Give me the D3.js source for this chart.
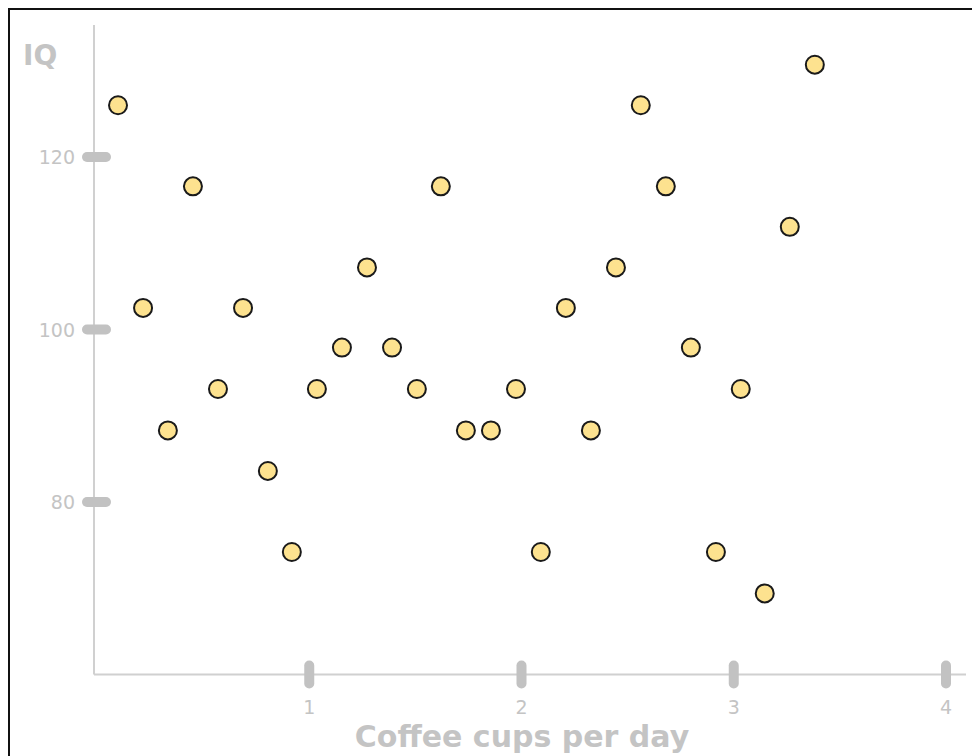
<!DOCTYPE html>
<html>
<head>
<meta charset="utf-8">
<script src="https://cdn.jsdelivr.net/npm/d3@7"></script>
<style>
  body { margin: 0; background: #fff; }
  svg { display: block; }
</style>
</head>
<body>
<svg id="chart" width="972" height="756"></svg>
<script>
const cups = [0.099, 0.217, 0.334, 0.452, 0.570, 0.688, 0.805, 0.918, 1.036, 1.154,
  1.272, 1.390, 1.507, 1.620, 1.738, 1.856, 1.974, 2.091, 2.209, 2.327,
  2.445, 2.562, 2.680, 2.798, 2.916, 3.033, 3.146, 3.264, 3.382];
const iq = [126.0, 102.5, 88.3, 116.6, 93.1, 102.5, 83.6, 74.2, 93.1, 97.9,
  107.2, 97.9, 93.1, 116.6, 88.3, 88.3, 93.1, 74.2, 102.5, 88.3,
  107.2, 126.0, 116.6, 97.9, 74.2, 93.1, 69.4, 111.9, 130.7];
const xTicks = [1, 2, 3, 4];
const yTicks = [80, 100, 120];

const svg = d3.select("#chart");
const grey = "#c4c4c4";

const x = d3.scaleLinear().domain([0, 4]).range([97, 946]);
const y = d3.scaleLinear().domain([60, 120]).range([674.5, 157]);

// frame
svg.append("rect")
  .attr("x", 9).attr("y", 9)
  .attr("width", 1000).attr("height", 1000)
  .attr("fill", "none")
  .attr("stroke", "#111")
  .attr("stroke-width", 2);

// axis lines
svg.append("line")
  .attr("x1", 94).attr("x2", 94)
  .attr("y1", 25).attr("y2", y(60))
  .attr("stroke", "#d0d0d0").attr("stroke-width", 2);
svg.append("line")
  .attr("x1", 94).attr("x2", 966)
  .attr("y1", y(60)).attr("y2", y(60))
  .attr("stroke", "#d0d0d0").attr("stroke-width", 2);

// y ticks
svg.selectAll(".ytick")
  .data(yTicks)
  .enter()
  .append("rect")
  .attr("x", 82).attr("y", (d) => y(d) - 5)
  .attr("width", 29).attr("height", 10)
  .attr("rx", 5)
  .attr("fill", "#c2c2c2");

svg.selectAll(".ylabel")
  .data(yTicks)
  .enter()
  .append("text")
  .attr("x", 75).attr("y", (d) => y(d) + 7)
  .attr("text-anchor", "end")
  .style("font-family", "DejaVu Sans")
  .style("font-size", "19px")
  .style("fill", grey)
  .text((d) => d);

// x ticks
svg.selectAll(".xtick")
  .data(xTicks)
  .enter()
  .append("rect")
  .attr("x", (d) => x(d) - 5).attr("y", y(60) - 14)
  .attr("width", 10).attr("height", 28)
  .attr("rx", 5)
  .attr("fill", "#c2c2c2");

svg.selectAll(".xlabel")
  .data(xTicks)
  .enter()
  .append("text")
  .attr("x", (d) => x(d)).attr("y", 714)
  .attr("text-anchor", "middle")
  .style("font-family", "DejaVu Sans")
  .style("font-size", "19px")
  .style("fill", grey)
  .text((d) => d);

// axis titles
svg.append("text")
  .attr("x", 23).attr("y", 65)
  .style("font-family", "DejaVu Sans")
  .style("font-weight", "bold")
  .style("font-size", "28px")
  .style("fill", grey)
  .text("IQ");

svg.append("text")
  .attr("x", 522).attr("y", 747)
  .attr("text-anchor", "middle")
  .style("font-family", "DejaVu Sans")
  .style("font-weight", "bold")
  .style("font-size", "30px")
  .style("fill", grey)
  .text("Coffee cups per day");

// points
svg.selectAll(".dot")
  .data(d3.zip(cups, iq))
  .enter()
  .append("circle")
  .attr("cx", (d) => x(d[0]))
  .attr("cy", (d) => y(d[1]))
  .attr("r", 9)
  .attr("fill", "#fde28f")
  .attr("stroke", "#1a1a1a")
  .attr("stroke-width", 2);
</script>
</body>
</html>
